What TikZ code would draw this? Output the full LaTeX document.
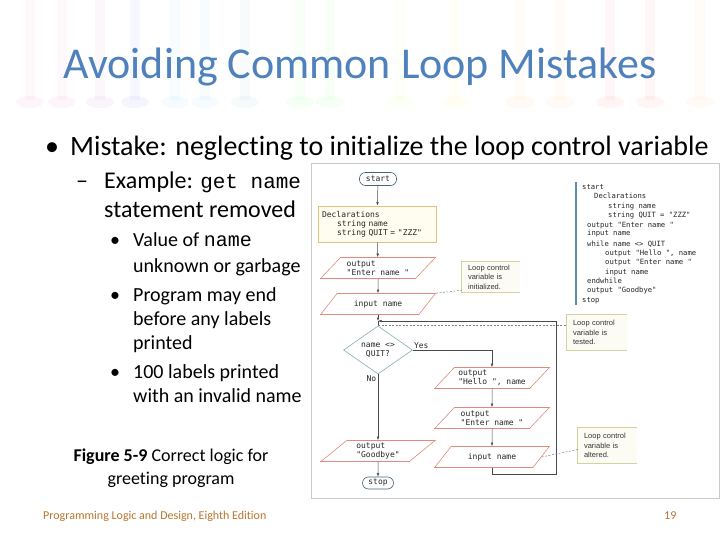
\documentclass[tikz,border=0pt]{standalone}
\usepackage{fontspec}
\setmainfont{Carlito}[Ligatures={NoCommon}]
\newfontfamily\codefont{DejaVu Sans Mono}
\newfontfamily\notefont{Liberation Sans}
\newfontfamily\slidemono{Liberation Mono}
\usetikzlibrary{arrows.meta,positioning,shapes.geometric}
\definecolor{titleblue}{HTML}{4F81BD}
\definecolor{footbrown}{HTML}{B9762F}
\definecolor{framegray}{HTML}{C9C9C9}
\definecolor{termline}{HTML}{45657A}
\definecolor{declfill}{HTML}{FFFCF0}
\definecolor{declline}{HTML}{E2C17E}
\definecolor{ioline}{HTML}{E08A80}
\definecolor{decline}{HTML}{86AEB8}
\definecolor{noteline}{HTML}{D5D2A2}
\definecolor{notefill}{HTML}{FDFCF4}
\definecolor{codebar}{HTML}{5B8DB5}
\definecolor{flowgray}{HTML}{4A4A4A}

\tikzset{
  fcfont/.style={font=\codefont\fontsize{8}{8.8}\selectfont, text=black!85},
  terminal/.style={fcfont, draw=termline, line width=0.6pt, rounded corners=6pt, fill=white, inner sep=0pt},
  declbox/.style={fcfont, draw=declline, fill=declfill, line width=0.8pt, text width=110pt, inner sep=4pt, minimum height=36pt, align=left},
  iobox/.style={fcfont, trapezium, trapezium left angle=44, trapezium right angle=136, trapezium stretches=true,
    draw=ioline, line width=0.6pt, fill=white, minimum width=115pt, minimum height=21pt, inner sep=1pt, align=left},
  ioshadow/.style={draw=ioline, line width=1.1pt},
  decision/.style={fcfont, diamond, draw=decline, line width=0.6pt, minimum width=69pt, minimum height=39pt, inner sep=0pt, align=center},
  note/.style={fill=notefill, inner xsep=6pt, inner ysep=2pt, align=left, font=\notefont\fontsize{7.5}{9.5}\selectfont, text=black!80},
  noteedge/.style={draw=noteline, line width=0.8pt},
  flow/.style={draw=flowgray, line width=0.5pt},
  hint/.style={draw=gray, line width=0.5pt, dash pattern=on 2pt off 1.5pt},
  pcode/.style={font=\codefont\fontsize{7.2}{8}\selectfont, text=black!85, inner sep=0pt},
  lvone/.style={anchor=base west, inner sep=0pt, font=\fontsize{28}{34}\selectfont},
  lvtwo/.style={anchor=base west, inner sep=0pt, font=\fontsize{24}{29}\selectfont},
  lvthree/.style={anchor=base west, inner sep=0pt, font=\fontsize{20}{24}\selectfont}
}

\begin{document}
\begin{tikzpicture}[x=1pt, y=-1pt, >={Latex[length=3.5pt,width=2.6pt]}]
  \useasboundingbox (0,0) rectangle (720,540);
  \fill[white] (0,0) rectangle (720,540);

  \foreach \x/\c in {30/magenta,62/magenta,100/violet,135/blue,175/cyan,205/cyan,245/teal,300/green,330/green,400/lime,455/yellow,520/orange,560/orange,610/red,650/red,700/orange}{
    \fill[\c, opacity=0.03] (\x-5,0) rectangle (\x+5,100);
    \fill[\c, opacity=0.04] (\x,102) ellipse (14 and 6);
  }

  \node[anchor=base, inner sep=0pt, font=\fontsize{44}{52}\selectfont, text=titleblue] (title) at (360,79) {Avoiding Common Loop Mistakes};

  \node[lvone] (b1) at (45,156) {\textbullet};
  \node[lvone] (l1) at (70,156) {Mistake: neglecting to initialize the loop control variable};
  \node[lvtwo] (b2) at (76,189) {–};
  \node[lvtwo] (l2a) at (104,189) {Example: {\slidemono\fontsize{21}{25}\selectfont get name}};
  \node[lvtwo] (l2b) at (104,218) {statement removed};
  \node[lvthree] (b3a) at (110,247) {\textbullet};
  \node[lvthree] (l3a) at (133,247) {Value of {\slidemono name}};
  \node[lvthree] (l3b) at (133,272) {unknown or garbage};
  \node[lvthree] (b3b) at (110,301) {\textbullet};
  \node[lvthree] (l3c) at (133,301) {Program may end};
  \node[lvthree] (l3d) at (133,325) {before any labels};
  \node[lvthree] (l3e) at (133,349) {printed};
  \node[lvthree] (b3c) at (110,378) {\textbullet};
  \node[lvthree] (l3f) at (133,378) {100 labels printed};
  \node[lvthree] (l3g) at (133,402) {with an invalid name};

  \node[anchor=base, inner sep=0pt, font=\fontsize{18}{22}\selectfont] (cap1) at (171,461) {\textbf{Figure 5-9} Correct logic for};
  \node[anchor=base, inner sep=0pt, font=\fontsize{18}{22}\selectfont] (cap2) at (171,484) {greeting program};

  \node[anchor=base west, inner sep=0pt, font=\fontsize{12}{14}\selectfont, text=footbrown] (foot) at (43,519) {Programming Logic and Design, Eighth Edition};
  \node[anchor=base west, inner sep=0pt, font=\fontsize{12}{14}\selectfont, text=footbrown] (page) at (664,519) {19};

  \draw[framegray, line width=0.8pt] (311,163) rectangle (719.4,498);

  \node[terminal, minimum width=37pt, minimum height=13pt] (start) at (378,179) {start};
  \node[declbox] (decl) at (377,224) {Declarations\\\hspace*{15pt}string name\\\hspace*{15pt}string QUIT = "ZZZ"};
  \node[iobox] (out1) at (378,268) {output\\"Enter name "};
  \node[iobox] (in1) at (378,304) {input name};
  \coordinate (join) at (378,321);
  \node[decision] (test) at (378,350) {name <>\\QUIT?};
  \node[iobox] (hello) at (492,378) {output\\"Hello ", name};
  \node[iobox] (out2) at (492,418) {output\\"Enter name "};
  \node[iobox] (in2) at (492,457) {input name};
  \coordinate (loopc) at (556,474);
  \node[iobox] (bye) at (378,451) {output\\"Goodbye"};
  \node[terminal, minimum width=31pt, minimum height=12pt] (stop) at (378,483) {stop};
  \foreach \n in {out1,in1,hello,out2,in2,bye}
    \draw[ioshadow] (\n.bottom left corner) -- (\n.bottom right corner);

  \draw[flow,->] (start) -- (decl);
  \draw[flow,->] (decl) -- (out1);
  \draw[flow,->] (out1) -- (in1);
  \draw[flow,->] (in1) -- (join);
  \draw[flow] (join) -- (test);
  \draw[flow,->] (test.east) -| (hello) node[pos=0, above right, inner sep=1pt, fcfont] {Yes};
  \draw[flow,->] (test) -- (bye) node[pos=0, below left, inner sep=1.5pt, fcfont] {No};
  \draw[flow,->] (hello) -- (out2);
  \draw[flow,->] (out2) -- (in2);
  \draw[flow,->] (in2.south) |- (loopc) |- (join);
  \draw[flow,->] (bye) -- (stop);

  \node[note, text width=46pt, minimum height=30pt] (init) at (491,277) {Loop control\\variable is\\initialized.};
  \node[note, text width=48pt, minimum height=35pt] (tested) at (597,332.5) {Loop control\\variable is\\tested.};
  \node[note, text width=47pt, minimum height=35pt] (altered) at (607.5,445.5) {Loop control\\variable is\\altered.};
  \foreach \n in {init,tested,altered}
    \draw[noteedge] (\n.north east) -- (\n.north west) -- (\n.south west) -- (\n.south east);
  \draw[hint] (in1.top right corner) -- ([yshift=2pt]init.south west);
  \draw[hint] (test.north) -- (test.north -| tested.west);
  \draw[hint] (in2.east) -- ([yshift=-4pt]altered.west);

  \draw[codebar, line width=1.5pt] (576,182) -- (576,305);
  \foreach \x/\y/\t [count=\i] in {582/190/start, 594/199/Declarations, 608/208/string name, 608/218/{string QUIT = "ZZZ"},
      587/227/{output "Enter name "}, 587/236/input name, 587/246/{while name <> QUIT}, 605/255/{output "Hello ", name},
      605/264/{output "Enter name "}, 605/274/input name, 587/283/endwhile, 587/292/{output "Goodbye"}, 582/302/stop}
    \node[pcode, anchor=base west] (pc\i) at (\x,\y) {\t};
\end{tikzpicture}
\end{document}
